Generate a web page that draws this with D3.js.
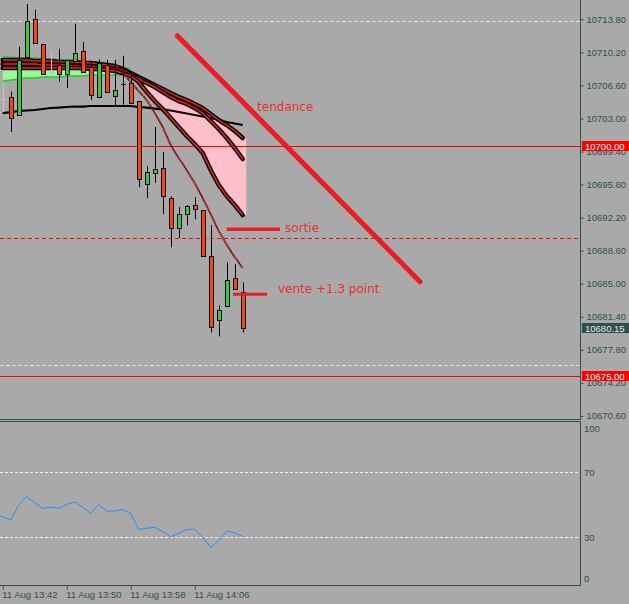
<!DOCTYPE html>
<html><head><meta charset="utf-8">
<script src="https://cdn.jsdelivr.net/npm/d3@7"></script>
<style>html,body{margin:0;padding:0;background:#a9a9a9;overflow:hidden}svg{display:block}</style>
</head><body><svg id="c" width="629" height="604"></svg>
<script>
// ---------------- data ----------------
const startTime = new Date(2020, 7, 11, 13, 42);
const minutes = d3.range(0, 31); // 13:42 .. 14:12, M1 bars
const opens  = [10705.13,10705.35,10703.38,10709.72,10713.86,10711.14,10708.08,10708.84,10707.86,10709.28,10710.37,10708.62,10705.35,10708.84,10705.46,10706.77,10706.88,10704.91,10695.85,10697.05,10697.60,10694.32,10691.05,10692.58,10693.56,10693.01,10687.99,10681.00,10682.53,10685.59,10684.06];
const highs  = [10706.99,10705.93,10710.81,10715.47,10714.85,10711.14,10710.26,10710.59,10709.39,10713.32,10711.35,10709.17,10709.39,10709.39,10709.39,10709.83,10708.08,10704.91,10697.82,10702.07,10699.34,10694.54,10693.34,10693.56,10694.43,10693.01,10691.38,10682.64,10687.34,10687.12,10685.15];
const lows   = [10703.71,10701.53,10703.38,10709.72,10711.24,10707.86,10707.75,10706.99,10706.33,10709.28,10708.08,10705.02,10705.35,10705.90,10704.26,10704.48,10704.69,10695.52,10694.32,10695.99,10692.58,10688.97,10689.96,10691.38,10692.03,10687.99,10679.69,10679.26,10682.53,10684.39,10679.69];
const closes = [10705.13,10703.06,10709.39,10713.65,10711.24,10707.86,10708.08,10707.86,10709.39,10710.15,10708.08,10705.57,10709.06,10705.90,10706.11,10706.77,10704.69,10696.40,10697.16,10697.49,10694.54,10691.05,10692.58,10693.45,10693.12,10687.99,10680.24,10682.10,10685.37,10684.39,10680.15];
const grayDoji = [0, 6];

const maSlow = [10703.59,10703.70,10703.81,10703.87,10703.92,10704.03,10704.14,10704.19,10704.25,10704.30,10704.30,10704.36,10704.36,10704.36,10704.36,10704.36,10704.36,10704.25,10704.19,10704.08,10703.98,10703.87,10703.70,10703.54,10703.38,10703.21,10703.05,10702.83,10702.61,10702.45,10702.29];
const maA = [10709.37,10709.37,10709.37,10709.37,10709.26,10709.26,10709.26,10709.15,10709.15,10709.15,10709.04,10709.04,10708.93,10708.82,10708.71,10708.39,10707.95,10707.52,10707.08,10706.64,10706.21,10705.77,10705.34,10705.01,10704.58,10704.14,10703.49,10702.83,10702.29,10701.63,10700.87];
const maB = [10708.93,10708.93,10708.93,10708.93,10708.93,10708.82,10708.82,10708.82,10708.82,10708.71,10708.71,10708.71,10708.61,10708.50,10708.39,10708.28,10707.84,10707.30,10706.86,10706.43,10705.88,10705.34,10704.90,10704.58,10704.14,10703.59,10702.72,10701.85,10700.87,10699.78,10698.58];
const maC = [10708.50,10708.50,10708.50,10708.50,10708.50,10708.50,10708.50,10708.50,10708.50,10708.50,10708.50,10708.39,10708.39,10708.28,10708.17,10707.95,10707.63,10706.97,10705.88,10704.90,10704.03,10703.05,10702.07,10701.09,10700.22,10699.24,10697.39,10695.75,10694.55,10693.57,10692.48];
const maThinStart = 12;
const maThin = [10708.71,10708.71,10708.71,10708.06,10706.97,10705.99,10705.01,10703.59,10702.07,10700.11,10698.69,10697.39,10695.97,10694.34,10692.59,10690.74,10689.22,10687.91,10686.71];
const bandUp = [10709.69,10709.69,10709.59,10709.59,10709.59,10709.48,10709.48,10709.37,10709.37,10709.26,10709.15,10709.04,10708.93,10708.82,10708.71,10708.61,10708.39];
const bandLo = [10707.08,10707.19,10707.30,10707.41,10707.41,10707.52,10707.52,10707.52,10707.63,10707.63,10707.63,10707.73,10707.73,10707.73,10707.73,10707.73,10707.95];
const pinkStart = 17;

const rsiMinutes = d3.range(-1, 31);
const rsi = [44.2,42.5,40.5,49.7,54.8,51.1,47.7,48.3,47.7,50.1,51.5,48.3,44.6,50.1,46.0,46.0,47.0,44.6,34.7,35.4,36.0,33.3,30.2,32.3,34.7,34.7,29.8,23.7,27.7,33.7,32.6,30.2];
const rsiLevels = [70, 30];
const rsiTicks = [100, 70, 30, 0];

const priceTicks = [10713.80,10710.20,10706.60,10703.00,10699.40,10695.80,10692.20,10688.60,10685.00,10681.40,10677.80,10674.20,10670.60];
const redLevels = [10700.00, 10675.00];
const redDashLevel = 10689.96;
const grayDashLevels = [10713.65, 10676.14];
const lastPrice = 10680.15;
const timeTicks = [0, 8, 16, 24];

const trendLine = [[21.83, 10712.02], [52.16, 10685.22]];
const sortieLine = [[28.0, 10690.93], [34.66, 10690.93]];
const venteLine = [[28.79, 10683.85], [33.04, 10683.85]];
const notes = [
  {text: "tendance", m: 31.8, p: 10703.81},
  {text: "sortie", m: 35.3, p: 10690.65},
  {text: "vente +1.3 point", m: 34.4, p: 10684.0}
];

// ---------------- scales ----------------
const tm = m => new Date(startTime.getTime() + m * 60000);
const x = d3.scaleTime().domain([tm(0), tm(30)]).range([2.7, 242.7]);
const xm = m => x(tm(m));
const y = d3.scaleLinear().domain([10675, 10700]).range([375.5, 146]);
const yi = d3.scaleLinear().domain([0, 100]).range([585.75, 423.25]);

const AX = "#2f4f4f", RED = "#ff0000", TRED = "#ec1c24";
const svg = d3.select("#c");
svg.append("rect").attr("width", 629).attr("height", 604).attr("fill", "#a9a9a9");
const defs = svg.append("defs");
defs.append("clipPath").attr("id", "cm").append("rect").attr("x", 0).attr("y", 0).attr("width", 580).attr("height", 419);
defs.append("clipPath").attr("id", "ci").append("rect").attr("x", 0).attr("y", 422).attr("width", 580).attr("height", 163);

const main = svg.append("g").attr("clip-path", "url(#cm)");

// green band
const bandIdx = d3.range(bandUp.length);
main.append("path").datum(bandIdx)
  .attr("d", d3.area().x(i => xm(i)).y0(i => y(bandLo[i])).y1(i => y(bandUp[i])))
  .attr("fill", "#98fb98");
[bandUp, bandLo].forEach(arr => {
  main.append("path").datum(bandIdx)
    .attr("d", d3.line().x(i => xm(i)).y(i => y(arr[i])))
    .attr("fill", "none").attr("stroke", "#22cc22").attr("stroke-width", 1.5);
});

// pink fill
const pinkIdx = d3.range(pinkStart, 31);
const pinkPts = pinkIdx.map(i => [xm(i), y(maA[i]), y(maC[i])]);
pinkPts.push([xm(30) + 3.5, y(maA[30]), y(maC[30])]);
main.append("path").datum(pinkPts)
  .attr("d", d3.area().x(d => d[0]).y0(d => d[2]).y1(d => d[1]))
  .attr("fill", "#ffc0cb");

// levels
grayDashLevels.forEach(p => main.append("line").attr("x1", 0).attr("x2", 580).attr("y1", Math.round(y(p)) + 0.5).attr("y2", Math.round(y(p)) + 0.5)
  .attr("stroke", "#dedede").attr("stroke-dasharray", "4,2"));
main.append("line").attr("x1", 0).attr("x2", 580).attr("y1", Math.round(y(redDashLevel)) + 0.5).attr("y2", Math.round(y(redDashLevel)) + 0.5)
  .attr("stroke", RED).attr("stroke-dasharray", "4,3");
redLevels.forEach(p => main.append("line").attr("x1", 0).attr("x2", 580).attr("y1", Math.round(y(p)) + 0.5).attr("y2", Math.round(y(p)) + 0.5)
  .attr("stroke", RED));

// slow MA
main.append("path").datum(minutes)
  .attr("d", d3.line().x(i => xm(i)).y(i => y(maSlow[i])))
  .attr("fill", "none").attr("stroke", "#000").attr("stroke-width", 2.2);

// thick MAs
[maA, maB, maC].forEach(arr => {
  const ln = d3.line().x(i => xm(i)).y(i => y(arr[i]));
  main.append("path").datum(minutes).attr("d", ln).attr("fill", "none")
    .attr("stroke", "#000").attr("stroke-width", 4.5).attr("stroke-linecap", "round").attr("stroke-linejoin", "round");
  main.append("path").datum(minutes).attr("d", ln).attr("fill", "none")
    .attr("stroke", "#ff1a1a").attr("stroke-width", 1.4);
});

// thin MA
const thinIdx = d3.range(maThin.length);
const thinLine = d3.line().x(k => xm(k + maThinStart)).y(k => y(maThin[k]));
main.append("path").datum(thinIdx).attr("d", thinLine).attr("fill", "none")
  .attr("stroke", "#000").attr("stroke-width", 2).attr("stroke-dasharray", "1,1");
main.append("path").datum(thinIdx).attr("d", thinLine).attr("fill", "none")
  .attr("stroke", "#e00000").attr("stroke-width", 1);

// candles
const cg = main.append("g");
minutes.forEach(i => {
  const cx = Math.round(xm(i)) + 0.5;
  const o = opens[i], c = closes[i];
  const isGray = grayDoji.includes(i);
  cg.append("line").attr("x1", cx).attr("x2", cx).attr("y1", y(highs[i])).attr("y2", y(lows[i]))
    .attr("stroke", isGray ? "#c4c4c4" : "#000").attr("stroke-width", 1);
  if (o === c) {
    cg.append("line").attr("x1", cx - 2.5).attr("x2", cx + 2.5).attr("y1", Math.round(y(o)) + 0.5).attr("y2", Math.round(y(o)) + 0.5)
      .attr("stroke", isGray ? "#c4c4c4" : "#000");
  } else {
    const top = Math.round(y(Math.max(o, c))), bot = Math.round(y(Math.min(o, c)));
    cg.append("rect").attr("x", cx - 2).attr("y", top + 0.5).attr("width", 4).attr("height", Math.max(1, bot - top))
      .attr("fill", c > o ? "#32cd32" : "#ff4500").attr("stroke", "#000").attr("stroke-width", 1);
  }
});

// drawings
const seg = (pts, w, cap) => main.append("line")
  .attr("x1", xm(pts[0][0])).attr("y1", y(pts[0][1])).attr("x2", xm(pts[1][0])).attr("y2", y(pts[1][1]))
  .attr("stroke", TRED).attr("stroke-width", w).attr("stroke-linecap", cap);
seg(trendLine, 5, "round");
seg(sortieLine, 3.5, "butt");
seg(venteLine, 3, "butt");
notes.forEach(n => main.append("text").attr("x", xm(n.m)).attr("y", y(n.p)).text(n.text)
  .attr("font-family", "DejaVu Sans").attr("font-size", 12).attr("fill", "#e8312f"));

// ---------------- indicator ----------------
const ind = svg.append("g").attr("clip-path", "url(#ci)");
rsiLevels.forEach(v => ind.append("line").attr("x1", 0).attr("x2", 580).attr("y1", Math.round(yi(v)) + 0.5).attr("y2", Math.round(yi(v)) + 0.5)
  .attr("stroke", "#f2f2f2").attr("stroke-dasharray", "3,2"));
ind.append("path").datum(rsiMinutes.map((m, k) => [m, rsi[k]]))
  .attr("d", d3.line().x(d => xm(d[0])).y(d => yi(d[1])))
  .attr("fill", "none").attr("stroke", "#1e90ff").attr("stroke-width", 1);

// ---------------- axes / frame ----------------
const fr = svg.append("g").attr("stroke", AX).attr("shape-rendering", "crispEdges");
fr.append("line").attr("x1", 580.5).attr("x2", 580.5).attr("y1", 0).attr("y2", 420);
fr.append("line").attr("x1", 0).attr("x2", 581).attr("y1", 419.5).attr("y2", 419.5);
fr.append("line").attr("x1", 0).attr("x2", 581).attr("y1", 421.5).attr("y2", 421.5);
fr.append("line").attr("x1", 580.5).attr("x2", 580.5).attr("y1", 421.5).attr("y2", 585.5);
fr.append("line").attr("x1", 577).attr("x2", 581).attr("y1", 421.5).attr("y2", 421.5);
fr.append("line").attr("x1", 577).attr("x2", 581).attr("y1", 585.5).attr("y2", 585.5);
fr.append("line").attr("x1", 0).attr("x2", 581).attr("y1", 585.5).attr("y2", 585.5);

const fontAx = "Liberation Sans, Arial, sans-serif";
const pa = svg.append("g").attr("transform", "translate(580.5,0)")
  .call(d3.axisRight(y).tickValues(priceTicks).tickFormat(d3.format(".2f")).tickSize(3).tickPadding(3));
pa.select(".domain").remove();
pa.selectAll("line").attr("stroke", AX);
pa.selectAll("text").attr("fill", AX).attr("font-family", fontAx).attr("font-size", 9.5);

const labelBox = (p, bg, fg) => {
  const cy = Math.round(y(p));
  svg.append("rect").attr("x", 582).attr("y", cy - 5).attr("width", 47).attr("height", 10).attr("fill", bg);
  svg.append("text").attr("x", 585).attr("y", cy + 3.5).text(d3.format(".2f")(p))
    .attr("fill", fg).attr("font-family", fontAx).attr("font-size", 9.5);
};
redLevels.forEach(p => labelBox(p, RED, "#ffffff"));
labelBox(lastPrice, "#2f4f4f", "#e8e8e8");

rsiTicks.forEach(v => {
  const yy = Math.min(Math.max(yi(v), 428), 578);
  svg.append("text").attr("x", 584).attr("y", yy + 3.5).text(v)
    .attr("fill", AX).attr("font-family", fontAx).attr("font-size", 9.5);
});

const xa = svg.append("g").attr("transform", "translate(0,585.5)")
  .call(d3.axisBottom(x).tickValues(timeTicks.map(tm)).tickFormat(d3.timeFormat("%d %b %H:%M")).tickSize(4).tickPadding(2));
xa.select(".domain").remove();
xa.selectAll("line").attr("stroke", AX);
xa.selectAll("text").attr("fill", AX).attr("font-family", fontAx).attr("font-size", 9.5)
  .attr("text-anchor", "start").attr("dx", -1);
</script>
</body></html>
